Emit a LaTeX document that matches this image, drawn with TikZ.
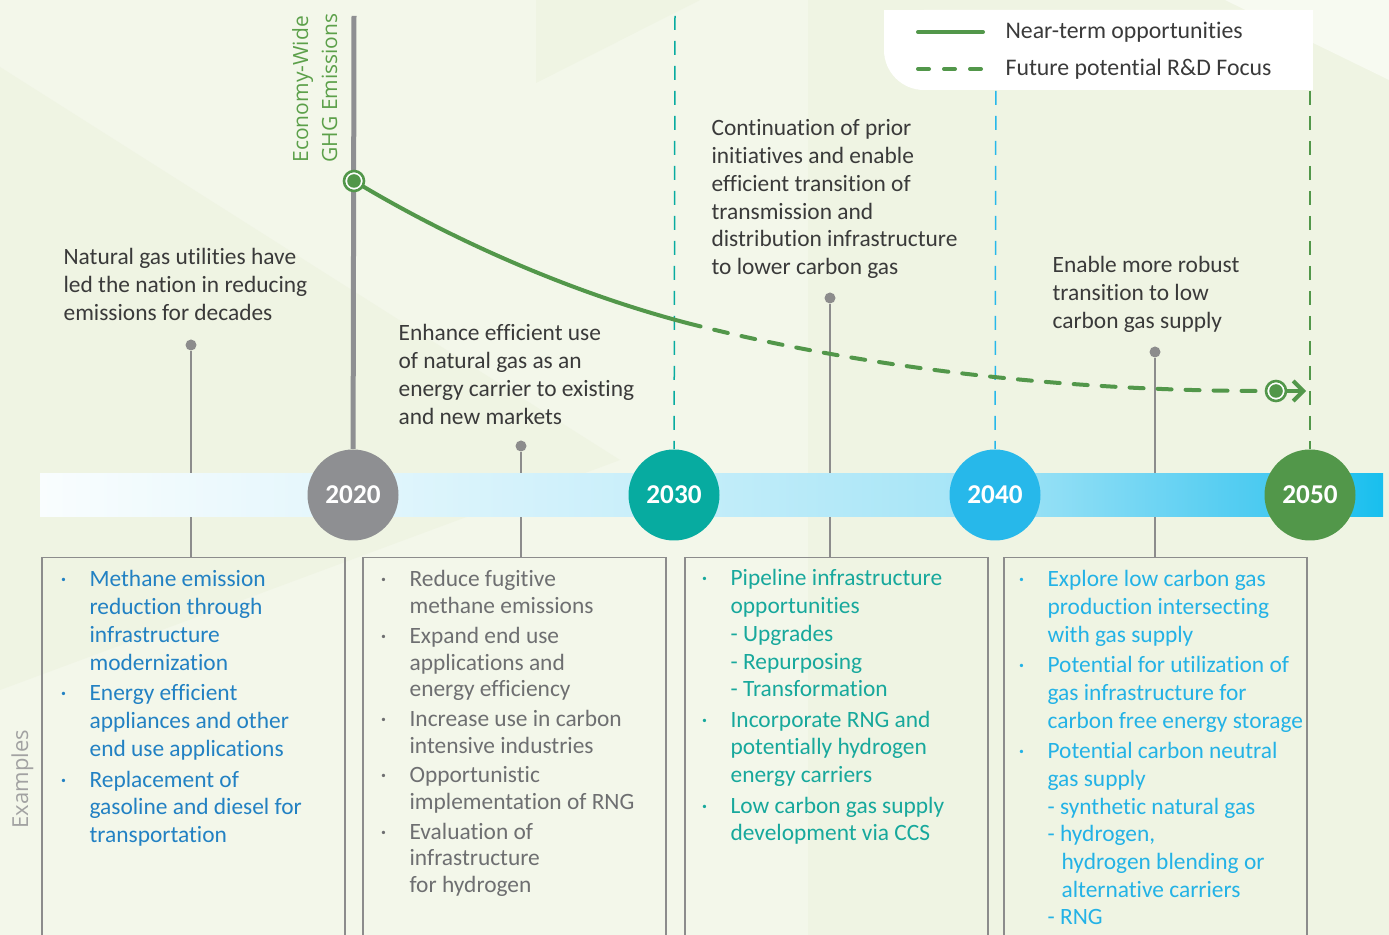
\documentclass[tikz,border=0pt]{standalone}
\usepackage{fontspec}
\setmainfont{Carlito}[Ligatures=NoCommon]
\newfontfamily\wideFont{Open Sans}
\usepackage{tikz}
\usetikzlibrary{arrows.meta,shapes,positioning,calc}

\definecolor{paperBg}{HTML}{F3F7EA}
\definecolor{paperDark}{HTML}{EFF4E3}
\definecolor{paperLight}{HTML}{F7FAF1}
\definecolor{gasGreen}{HTML}{52974A}
\definecolor{ghgGreen}{HTML}{5CA04A}
\definecolor{yearGrey}{HTML}{8E8F92}
\definecolor{yearTeal}{HTML}{07ABA0}
\definecolor{yearBlue}{HTML}{27B8EA}
\definecolor{pinGrey}{HTML}{8C8C8C}
\definecolor{noteGrey}{HTML}{3A3A3A}
\definecolor{listBlue}{HTML}{2281C3}
\definecolor{listGrey}{HTML}{6E6F71}
\definecolor{listTeal}{HTML}{17A89C}
\definecolor{listCyan}{HTML}{23B2E6}
\definecolor{labelGrey}{HTML}{A2A2A2}
\definecolor{barA}{HTML}{F9FDFE}
\definecolor{barB}{HTML}{E3F6FC}
\definecolor{barC}{HTML}{C6EEFA}
\definecolor{barD}{HTML}{A3E4F6}
\definecolor{barE}{HTML}{4ACAF1}
\definecolor{barF}{HTML}{18BFEE}

\pgfdeclarehorizontalshading{barShade}{100bp}{color(0bp)=(barA); color(25bp)=(barA); color(36.6bp)=(barB); color(48.6bp)=(barC); color(60.5bp)=(barD); color(70.6bp)=(barE); color(75bp)=(barF); color(100bp)=(barF)}

\begin{document}
\begin{tikzpicture}[x=0.5pt,y=-0.5pt,semithick]

\tikzset{
	yearBall/.style={
		circle,
		minimum size=45.5pt,
		inner sep=0pt,
		text=white,
		font=\fontsize{13.6}{16}\selectfont\bfseries
	}
}

\tikzset{
	exampleBox/.style={
		draw=pinGrey,
		line width=0.75pt,
		minimum width=151.5pt,
		minimum height=200pt,
		anchor=north west,
		inner sep=0pt
	}
}

\tikzset{
	pinDot/.style={
		circle,
		fill=pinGrey,
		minimum size=5.5pt,
		inner sep=0pt
	}
}

\tikzset{
	pinLine/.style={
		draw=pinGrey,
		line width=0.75pt
	}
}

\tikzset{
	yearGuide/.style={
		line width=0.75pt,
		dash pattern=on 7pt off 5.5pt
	}
}

\tikzset{
	nearTerm/.style={
		draw=gasGreen,
		line width=2pt
	}
}

\tikzset{
	futureRD/.style={
		draw=gasGreen,
		line width=2pt,
		line cap=round,
		dash pattern=on 7pt off 7pt
	}
}

\tikzset{
	ringMark/.style={
		circle,
		draw=gasGreen,
		fill=white,
		line width=1.3pt,
		minimum size=10pt,
		inner sep=0pt
	}
}

\tikzset{
	dotMark/.style={
		circle,
		fill=gasGreen,
		minimum size=6.8pt,
		inner sep=0pt
	}
}

\tikzset{
	noteText/.style={
		anchor=base west,
		inner sep=0pt,
		text=noteGrey,
		font=\fontsize{11.7}{13.85}\selectfont
	}
}

\tikzset{
	listText/.style={
		anchor=base west,
		inner sep=0pt,
		font=\fontsize{11.7}{13.85}\selectfont
	}
}

\useasboundingbox (0,0) rectangle (1389,935);
\clip (0,0) rectangle (1389,935);

% paper
\fill[paperBg] (0,0) rectangle (1389,935);
\fill[paperDark] (0,67) -- (620,460) -- (0,690) -- cycle;
\fill[paperDark] (808,0) -- (1389,0) -- (1389,935) -- (808,935) -- cycle;
\fill[paperLight] (1225,0) -- (1389,0) -- (1389,80) -- cycle;
\fill[paperDark] (536,0) -- (700,0) -- (536,83) -- cycle;

% example boxes
\node[exampleBox] (boxA) at (41,557) {};
\node[exampleBox] (boxB) at (362,557) {};
\node[exampleBox] (boxC) at (684,557) {};
\node[exampleBox] (boxD) at (1003,557) {};

\node[pinDot] (pinA) at (191,345) {};
\node[pinDot] (pinB) at (521,446) {};
\node[pinDot] (pinC) at (830,298) {};
\node[pinDot] (pinD) at (1155,352) {};

\path[pinLine] (pinA) edge (pinA |- boxA.north);
\path[pinLine] (pinB) edge (pinB |- boxB.north);
\path[pinLine] (pinC) edge (pinC |- boxC.north);
\path[pinLine] (pinD) edge (pinD |- boxD.north);

% time bar
\shade[shading=barShade] (40,474) rectangle (1383,517);

\node[yearBall, fill=yearGrey] (y2020) at (353,495) {2020};
\node[yearBall, fill=yearTeal] (y2030) at (674,495) {2030};
\node[yearBall, fill=yearBlue] (y2040) at (995,495) {2040};
\node[yearBall, fill=gasGreen] (y2050) at (1310,495) {2050};

\coordinate (guide2030) at (675,16);
\coordinate (guide2040) at (996,16);
\coordinate (guide2050) at (1310,16);
\draw[yearGuide, draw=yearTeal] (guide2030) -- (y2030);
\draw[yearGuide, draw=yearBlue] (guide2040) -- (y2040);
\draw[yearGuide, draw=gasGreen] (guide2050) -- (y2050);

\coordinate (ghgTop) at (354,16);
\draw[draw=yearGrey, line width=2.5pt] (ghgTop) -- (y2020);

% legend
\fill[white, rounded corners=20pt] (884,10) rectangle (1313,90);
\fill[white] (884,10) rectangle (1313,50);
\fill[white] (930,10) rectangle (1313,90);

\coordinate (nearA) at (918,32);
\coordinate (nearB) at (983,32);
\coordinate (futA) at (918,69);
\coordinate (futB) at (985,69);
\draw[nearTerm, line cap=round] (nearA) -- (nearB);
\draw[futureRD, dash pattern=on 5.5pt off 7.5pt] (futA) -- (futB);
\node[noteText, anchor=west, font=\fontsize{11.9}{14}\selectfont] (nearLabel) [right=11pt of nearB] {Near-term opportunities};
\node[noteText, anchor=west, font=\fontsize{11.9}{14}\selectfont] (futLabel) [right=10pt of futB] {Future potential R\&D Focus};

% emissions curve
\coordinate (ghgStart) at (354,181);
\coordinate (ghgSplit) at (687,323);
\coordinate (ghgEnd) at (1265,391);
\draw[nearTerm] (ghgStart) .. controls (460,245) and (580,295) .. (ghgSplit);
\draw[futureRD] (ghgSplit) .. controls (800,352) and (1000,391) .. (ghgEnd);

\node[ringMark] (startRing) at (ghgStart) {};
\node[dotMark] (startDot) at (startRing) {};
\node[ringMark] (endRing) at (1276,391) {};
\node[dotMark] (endDot) at (endRing) {};
\coordinate (arrowTip) at (1306,391);
\draw[nearTerm, -{Straight Barb[length=5pt,width=10pt]}] (endRing) -- (arrowTip);

% axis labels
\node[rotate=90, anchor=base west, inner sep=0pt, text=ghgGreen, font=\wideFont\fontsize{10.5}{14.5}\selectfont] (ghgLabel) at (308,163) {\begin{tabular}[t]{@{}l@{}}Economy-Wide\\GHG Emissions\end{tabular}};
\node[rotate=90, anchor=base west, inner sep=0pt, text=labelGrey, font=\wideFont\fontsize{11}{14}\selectfont] (exLabel) at (28,829) {Examples};

% milestone notes
\node[noteText] (noteA) at (63,265) {\begin{tabular}[t]{@{}l@{}}Natural gas utilities have\\led the nation in reducing\\emissions for decades\end{tabular}};
\node[noteText] (noteB) at (398,341) {\begin{tabular}[t]{@{}l@{}}Enhance efficient use\\of natural gas as an\\energy carrier to existing\\and new markets\end{tabular}};
\node[noteText] (noteC) at (711,136) {\begin{tabular}[t]{@{}l@{}}Continuation of prior\\initiatives and enable\\efficient transition of\\transmission and\\distribution infrastructure\\to lower carbon gas\end{tabular}};
\node[noteText] (noteD) at (1052,273) {\begin{tabular}[t]{@{}l@{}}Enable more robust\\transition to low\\carbon gas supply\end{tabular}};

% examples
\node[listText, text=listBlue] (listA) at (60,587) {\begin{tabular}[t]{@{}p{14.5pt}@{}l@{}}
\textperiodcentered & Methane emission\\
 & reduction through\\
 & infrastructure\\
 & modernization\\[1.6pt]
\textperiodcentered & Energy efficient\\
 & appliances and other\\
 & end use applications\\[1.6pt]
\textperiodcentered & Replacement of\\
 & gasoline and diesel for\\
 & transportation
\end{tabular}};

\node[listText, text=listGrey, font=\fontsize{11.7}{13.35}\selectfont] (listB) at (380,587) {\begin{tabular}[t]{@{}p{14.5pt}@{}l@{}}
\textperiodcentered & Reduce fugitive\\
 & methane emissions\\[1.5pt]
\textperiodcentered & Expand end use\\
 & applications and\\
 & energy efficiency\\[1.5pt]
\textperiodcentered & Increase use in carbon\\
 & intensive industries\\[1.5pt]
\textperiodcentered & Opportunistic\\
 & implementation of RNG\\[1.5pt]
\textperiodcentered & Evaluation of\\
 & infrastructure\\
 & for hydrogen
\end{tabular}};

\node[listText, text=listTeal] (listC) at (701,586) {\begin{tabular}[t]{@{}p{14.5pt}@{}l@{}}
\textperiodcentered & Pipeline infrastructure\\
 & opportunities\\
 & - Upgrades\\
 & - Repurposing\\
 & - Transformation\\[1.4pt]
\textperiodcentered & Incorporate RNG and\\
 & potentially hydrogen\\
 & energy carriers\\[1.4pt]
\textperiodcentered & Low carbon gas supply\\
 & development via CCS
\end{tabular}};

\node[listText, text=listCyan] (listD) at (1018,587) {\begin{tabular}[t]{@{}p{14.5pt}@{}l@{}}
\textperiodcentered & Explore low carbon gas\\
 & production intersecting\\
 & with gas supply\\[1.4pt]
\textperiodcentered & Potential for utilization of\\
 & gas infrastructure for\\
 & carbon free energy storage\\[1.4pt]
\textperiodcentered & Potential carbon neutral\\
 & gas supply\\
 & - synthetic natural gas\\
 & - hydrogen,\\
 & \hspace{7pt}hydrogen blending or\\
 & \hspace{7pt}alternative carriers\\
 & - RNG
\end{tabular}};

\end{tikzpicture}
\end{document}
